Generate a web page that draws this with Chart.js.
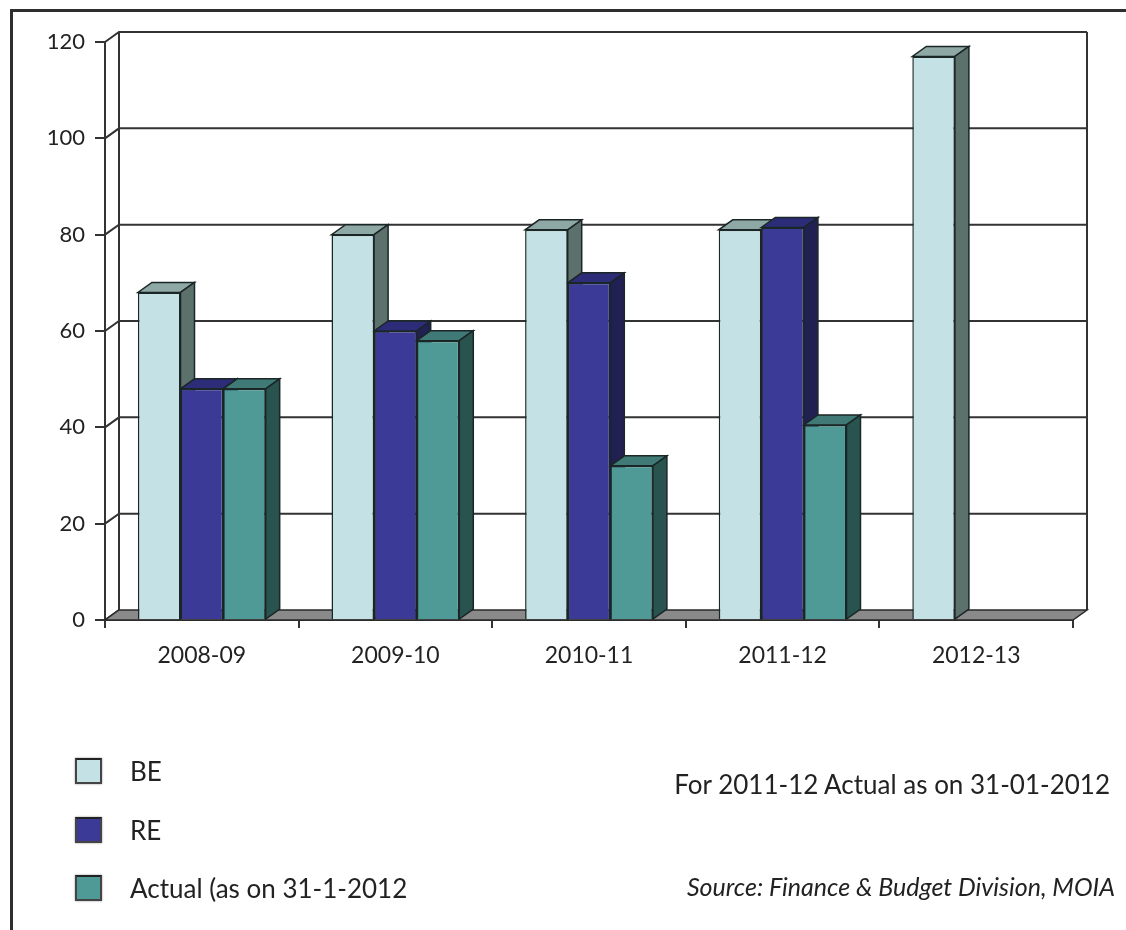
<!DOCTYPE html>
<html lang="en">
<head>
<meta charset="UTF-8">
<title>BE / RE / Actual</title>
<script src="https://cdn.jsdelivr.net/npm/chart.js@4.4.1/dist/chart.umd.min.js"></script>
<style>
  html, body { margin: 0; padding: 0; background: #fff; overflow: hidden; }
  body { width: 1126px; height: 930px; position: relative; font-family: Lato, "Open Sans", sans-serif; color: #222; }
  #moldura { position: absolute; left: 10px; top: 9px; width: 1130px; height: 940px; border-top: 3px solid #2e2e2e; border-left: 3px solid #2e2e2e; }
  #grafico { position: absolute; left: 0; top: 0; }
  .legenda-item { position: absolute; left: 75px; height: 28px; display: flex; align-items: center; font-size: 26px; }
  .caixa { width: 27px; height: 26px; box-sizing: border-box; border: 2px solid #444; border-top-color: #222; box-shadow: 0 0 2px rgba(0,0,0,0.4); margin-right: 28px; }
  .nota { position: absolute; font-size: 26px; white-space: nowrap; }
</style>
</head>
<body>
<div id="moldura"></div>
<canvas id="grafico" width="1126" height="930"></canvas>
<div id="legenda"></div>
<div class="nota" style="top:768px; right:16px;">For 2011-12 Actual as on 31-01-2012</div>
<div class="nota" style="top:871px; right:11px; font-style:italic; font-size:25px;">Source: Finance &amp; Budget Division, MOIA</div>
<script>
// Dados
const categorias = ['2008-09', '2009-10', '2010-11', '2011-12', '2012-13'];
const valoresBE = [68, 80, 81, 81, 117];
const valoresRE = [48, 60, 70, 81.5, null];
const valoresActual = [48, 58, 32, 40.5, null];
const nomesSeries = ['BE', 'RE', 'Actual (as on 31-1-2012'];

// Cores: frente, topo e lateral de cada série
const coresFrente = ['#c4e2e5', '#3b3b97', '#4f9a96'];
const coresTopo = ['#8ea8a5', '#2c2c78', '#3f7a76'];
const coresLado = ['#5d716c', '#202052', '#28534f'];
const corContorno = '#1b2626';

// Profundidade do efeito 3D (em pixels)
const profX = 14;
const profY = -10;

function poligono(ctx, pontos, cor) {
    ctx.beginPath();
    ctx.moveTo(pontos[0][0], pontos[0][1]);
    for (let i = 1; i < pontos.length; i++) {
        ctx.lineTo(pontos[i][0], pontos[i][1]);
    }
    ctx.closePath();
    if (cor) {
        ctx.fillStyle = cor;
        ctx.fill();
    }
    ctx.stroke();
}

// Plugin que desenha parede do fundo, chão e as faces de topo/lateral das barras
const efeito3D = {
    id: 'efeito3D',
    beforeDatasetsDraw(chart) {
        const ctx = chart.ctx;
        const area = chart.chartArea;
        const escalaY = chart.scales.y;
        ctx.save();

        // linhas de grade na parede do fundo
        ctx.strokeStyle = '#333';
        ctx.lineWidth = 2;
        escalaY.ticks.forEach(t => {
            const y = escalaY.getPixelForValue(t.value);
            ctx.beginPath();
            ctx.moveTo(area.left, y);
            ctx.lineTo(area.left + profX, y + profY);
            if (t.value > 0) {
                ctx.lineTo(area.right + profX, y + profY);
            }
            ctx.stroke();
        });

        // bordas verticais da parede do fundo
        ctx.beginPath();
        ctx.moveTo(area.left + profX, area.top + profY);
        ctx.lineTo(area.left + profX, area.bottom + profY);
        ctx.moveTo(area.right + profX, area.top + profY);
        ctx.lineTo(area.right + profX, area.bottom + profY);
        ctx.stroke();

        // chão
        ctx.lineWidth = 1.5;
        ctx.strokeStyle = '#2a2a2a';
        poligono(ctx, [
            [area.left, area.bottom], [area.right, area.bottom],
            [area.right + profX, area.bottom + profY], [area.left + profX, area.bottom + profY]
        ], '#8a8a8a');

        // topo e lateral de cada barra, na ordem das séries
        chart.data.datasets.forEach((ds, i) => {
            const meta = chart.getDatasetMeta(i);
            meta.data.forEach((barra, j) => {
                if (ds.data[j] == null) return;
                const p = barra.getProps(['x', 'y', 'base', 'width'], true);
                const esq = p.x - p.width / 2;
                const dir = p.x + p.width / 2;
                ctx.strokeStyle = corContorno;
                ctx.lineWidth = 1.5;
                poligono(ctx, [[esq, p.y], [dir, p.y], [dir + profX, p.y + profY], [esq + profX, p.y + profY]], coresTopo[i]);
                poligono(ctx, [[dir, p.y], [dir + profX, p.y + profY], [dir + profX, p.base + profY], [dir, p.base]], coresLado[i]);
            });
        });

        ctx.restore();
    }
};

const series = [valoresBE, valoresRE, valoresActual];

new Chart(document.getElementById('grafico'), {
    type: 'bar',
    data: {
        labels: categorias,
        datasets: series.map((valores, i) => ({
            label: nomesSeries[i],
            data: valores,
            backgroundColor: coresFrente[i],
            borderColor: corContorno,
            borderWidth: 1.5
        }))
    },
    plugins: [efeito3D],
    options: {
        responsive: false,
        animation: false,
        events: [],
        layout: { padding: { left: 10, top: 42, right: 53, bottom: 250 } },
        datasets: { bar: { categoryPercentage: 0.66, barPercentage: 1.0 } },
        plugins: { legend: { display: false }, tooltip: { enabled: false } },
        scales: {
            x: {
                afterFit: (s) => { s.height = 60; },
                grid: { offset: true, drawOnChartArea: false, drawTicks: true, tickLength: 8, color: '#333', lineWidth: 2 },
                border: { display: true, color: '#333', width: 2 },
                ticks: { font: { family: 'Lato', size: 23 }, color: '#222', padding: 14 }
            },
            y: {
                min: 0,
                max: 120,
                afterFit: (s) => { s.width = 95; },
                grid: { drawOnChartArea: false, tickLength: 10, color: '#333', lineWidth: 2 },
                border: { display: true, color: '#333', width: 2 },
                ticks: { stepSize: 20, font: { family: 'Lato', size: 22 }, color: '#222', padding: 10 }
            }
        }
    }
});

// Legenda montada a partir das séries
const legenda = document.getElementById('legenda');
const topos = [757, 816, 874];
nomesSeries.forEach((nome, i) => {
    const item = document.createElement('div');
    item.className = 'legenda-item';
    item.style.top = topos[i] + 'px';
    const caixa = document.createElement('div');
    caixa.className = 'caixa';
    caixa.style.background = coresFrente[i];
    const texto = document.createElement('span');
    texto.textContent = nome;
    item.appendChild(caixa);
    item.appendChild(texto);
    legenda.appendChild(item);
});
</script>
</body>
</html>
